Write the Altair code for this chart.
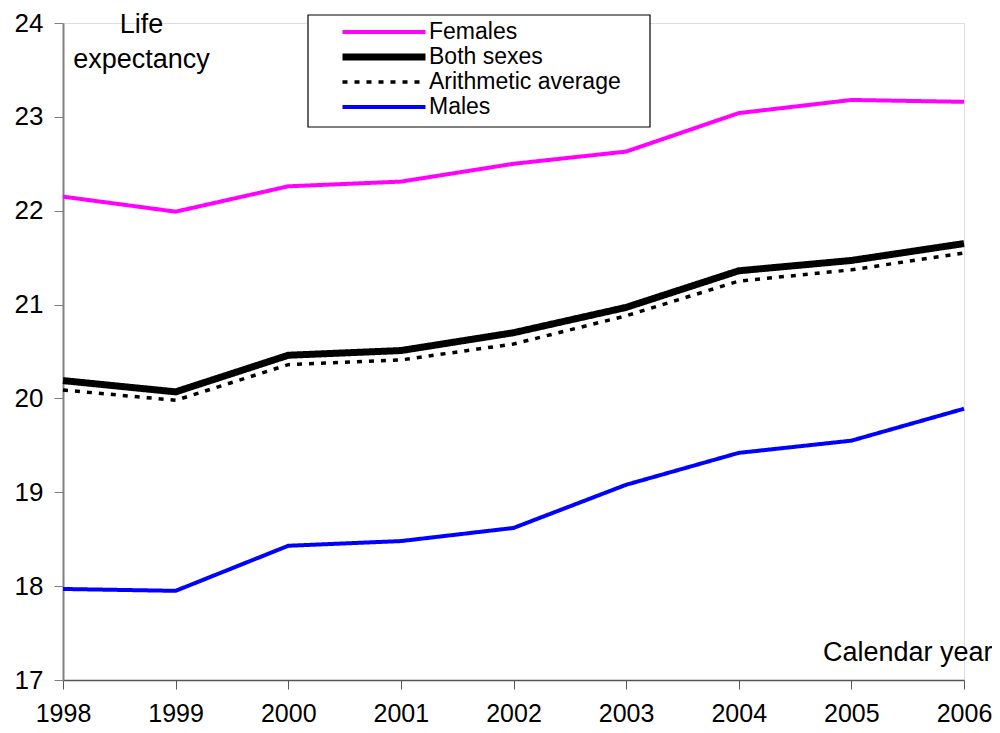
import altair as alt
import pandas as pd

years = [1998, 1999, 2000, 2001, 2002, 2003, 2004, 2005, 2006]
females = [22.15, 21.99, 22.26, 22.31, 22.50, 22.63, 23.04, 23.18, 23.16]
both_sexes = [20.19, 20.07, 20.46, 20.51, 20.70, 20.97, 21.36, 21.47, 21.65]
arithmetic = [20.09, 19.98, 20.36, 20.41, 20.58, 20.88, 21.25, 21.37, 21.55]
males = [17.97, 17.95, 18.43, 18.48, 18.62, 19.08, 19.42, 19.55, 19.89]

series_names = ["Females", "Both sexes", "Arithmetic average", "Males"]
series_values = [females, both_sexes, arithmetic, males]
series_colors = ["#ff00ff", "#000000", "#000000", "#0000ff"]
series_widths = [4, 7, 3.5, 4]
series_dash = [[1, 0], [1, 0], [5, 7], [1, 0]]
y_ticks = [17, 18, 19, 20, 21, 22, 23, 24]

rows = []
for name, vals in zip(series_names, series_values):
    for yr, v in zip(years, vals):
        rows.append({"year": yr, "value": v, "series": name})
df = pd.DataFrame(rows)

FONT = "Liberation Sans"

# legend frame drawn behind the lines
legend_box = alt.Chart(alt.Data(values=[{"k": 1}])).mark_rect(
    fill="white", stroke="black", strokeWidth=1.2
).encode(
    x=alt.value(245), x2=alt.value(587), y=alt.value(-8), y2=alt.value(104)
)

lines = alt.Chart(df).mark_line().encode(
    x=alt.X(
        "year:Q",
        scale=alt.Scale(domain=[1998, 2006], nice=False, zero=False),
        axis=alt.Axis(
            values=years, format="d", grid=False,
            title="Calendar year", titleX=929, titleY=-20,
            titleAlign="right", titleAnchor="end", titleBaseline="alphabetic",
            titleFontSize=27, titleFontWeight="normal", titleFont=FONT,
            labelFontSize=25, labelFont=FONT, labelColor="black",
            labelPadding=12, tickSize=9, tickColor="#555555",
            domainColor="#555555", domainWidth=1.5, labelFlush=False,
            labelOverlap=False,
        ),
    ),
    y=alt.Y(
        "value:Q",
        scale=alt.Scale(domain=[17, 24], nice=False, zero=False),
        axis=alt.Axis(
            values=y_ticks, grid=False,
            title=["Life", "expectancy"], titleAngle=0, titleX=78, titleY=9,
            titleAlign="center", titleBaseline="alphabetic", titleLineHeight=35,
            titleFontSize=27, titleFontWeight="normal", titleFont=FONT,
            labelFontSize=26, labelFont=FONT, labelColor="black",
            labelPadding=11, tickSize=9, tickColor="#808080",
            domainColor="#808080", domainWidth=2,
        ),
    ),
    color=alt.Color(
        "series:N",
        scale=alt.Scale(domain=series_names, range=series_colors),
        sort=series_names,
        legend=alt.Legend(
            title=None, orient="none", legendX=246, legendY=-10,
            symbolType="stroke", symbolSize=83 * 83, clipHeight=24,
            symbolOffset=23, labelOffset=0, rowPadding=1, padding=7,
            labelFontSize=23, labelFont=FONT, labelColor="black",
            labelLimit=500,
        ),
    ),
    strokeWidth=alt.StrokeWidth(
        "series:N",
        scale=alt.Scale(type="ordinal", domain=series_names, range=series_widths),
        sort=series_names,
        legend=alt.Legend(title=None),
    ),
    strokeDash=alt.StrokeDash(
        "series:N",
        scale=alt.Scale(domain=series_names, range=series_dash),
        sort=series_names,
        legend=alt.Legend(title=None),
    ),
)

chart = alt.layer(legend_box, lines).properties(
    width=901,
    height=657,
    autosize=alt.AutoSizeParams(type="none"),
    padding={"left": 55, "top": 15, "right": 28, "bottom": 45},
).configure_view(stroke=None).configure(background="white")

chart.save("out.html", embed_options={"renderer": "svg", "actions": False})
